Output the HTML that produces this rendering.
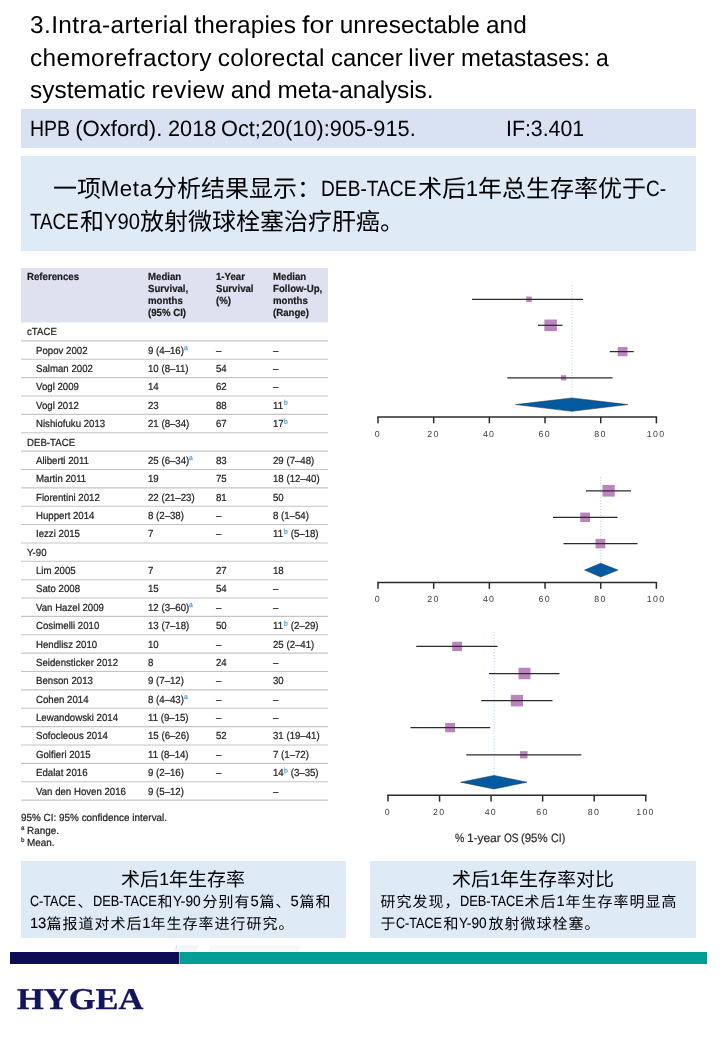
<!DOCTYPE html>
<html lang="zh"><head><meta charset="utf-8"><title>Intra-arterial therapies - DEB-TACE 1-year survival</title>
<style>
html,body{margin:0;padding:0;background:#fff}
#page{position:relative;width:720px;height:1040px;overflow:hidden;background:#fff;will-change:transform;text-rendering:geometricPrecision;font-family:"Liberation Sans",sans-serif;color:#000}
.t{position:absolute;white-space:pre;line-height:1;font-kerning:normal}
.c{position:absolute;overflow:visible}
.c text{font-family:"Liberation Sans","Noto Sans CJK SC",sans-serif;white-space:pre}
.r{position:absolute}
.s{position:absolute;left:0;top:0}
.fig{position:absolute;left:0;top:0;width:720px;height:1040px;margin:0;padding:0;font-size:16px;font-weight:normal}
.tbl{filter:blur(0.3px)}
.tbl .t{-webkit-text-stroke:0.22px currentColor}
.logo{font-family:"Liberation Serif",serif;font-weight:bold;color:#14145c;letter-spacing:0;transform:scaleX(1.142);transform-origin:0 0;-webkit-text-stroke:0.3px currentColor}
.bx .t{-webkit-text-stroke:0.1px currentColor}
.axl .t{-webkit-text-stroke:0.2px currentColor}
</style></head><body>
<div id="page">
<h1 class="fig">
<span class="t" style="left:30.00px;top:14.00px;font-size:24.40px;letter-spacing:0.403px;">3.Intra-arterial</span>
<span class="t" style="left:194.33px;top:14.00px;font-size:24.40px;letter-spacing:0.168px;">therapies</span>
<span class="t" style="left:302.22px;top:14.00px;font-size:24.40px;transform:scaleX(1.1035);transform-origin:0 0;">for</span>
<span class="t" style="left:339.65px;top:14.00px;font-size:24.40px;letter-spacing:0.054px;">unresectable</span>
<span class="t" style="left:486.02px;top:14.00px;font-size:24.40px;letter-spacing:0.003px;">and</span>
<span class="t" style="left:30.00px;top:47.00px;font-size:24.40px;letter-spacing:0.368px;">chemorefractory</span>
<span class="t" style="left:217.80px;top:47.00px;font-size:24.40px;letter-spacing:0.241px;">colorectal</span>
<span class="t" style="left:330.63px;top:47.00px;font-size:24.40px;transform:scaleX(0.9789);transform-origin:0 0;">cancer</span>
<span class="t" style="left:408.32px;top:47.00px;font-size:24.40px;letter-spacing:0.387px;">liver</span>
<span class="t" style="left:460.99px;top:47.00px;font-size:24.40px;transform:scaleX(0.9829);transform-origin:0 0;">metastases:</span>
<span class="t" style="left:596.27px;top:47.00px;font-size:24.40px;transform:scaleX(0.9387);transform-origin:0 0;">a</span>
<span class="t" style="left:30.00px;top:79.00px;font-size:24.40px;letter-spacing:0.029px;">systematic</span>
<span class="t" style="left:151.56px;top:79.00px;font-size:24.40px;letter-spacing:0.425px;">review</span>
<span class="t" style="left:230.65px;top:79.00px;font-size:24.40px;letter-spacing:0.028px;">and</span>
<span class="t" style="left:277.48px;top:79.00px;font-size:24.40px;letter-spacing:-0.100px;">meta-analysis.</span>
</h1>
<div class="fig cite">
<div class="r" style="left:21.00px;top:109.00px;width:675.00px;height:38.50px;background:#d9e2f3"></div>
<span class="t" style="left:29.80px;top:118.00px;font-size:22.20px;transform:scaleX(0.8793);transform-origin:0 0;">HPB</span>
<span class="t" style="left:75.27px;top:118.00px;font-size:22.20px;letter-spacing:-0.059px;">(Oxford).</span>
<span class="t" style="left:167.65px;top:118.00px;font-size:22.20px;transform:scaleX(0.9779);transform-origin:0 0;">2018</span>
<span class="t" style="left:221.29px;top:118.00px;font-size:22.20px;transform:scaleX(0.9805);transform-origin:0 0;">Oct;20(10):905-915.</span>
<span class="t" style="left:505.80px;top:118.00px;font-size:22.20px;transform:scaleX(0.9602);transform-origin:0 0;">IF:3.401</span>
</div>
<div class="r" style="left:21.00px;top:155.50px;width:675.00px;height:95.50px;background:#deeaf6"></div>
<p class="fig summary">
<svg class="c" style="left:52.70px;top:171.70px" width="48.00" height="31.20" fill="#000"><text x="0" y="25.20" font-size="24">一项</text></svg>
<span class="t" style="left:100.70px;top:178.00px;font-size:22.20px;letter-spacing:0.661px;color:#000;">Meta</span>
<svg class="c" style="left:152.70px;top:171.70px" width="168.00" height="31.20" fill="#000"><text x="0" y="25.20" font-size="24">分析结果显示：</text></svg>
<span class="t" style="left:320.70px;top:178.00px;font-size:22.20px;color:#000;transform:scaleX(0.8640);transform-origin:0 0;">DEB-TACE</span>
<svg class="c" style="left:417.68px;top:171.70px" width="48.00" height="31.20" fill="#000"><text x="0" y="25.20" font-size="24">术后</text></svg>
<span class="t" style="left:465.68px;top:178.00px;font-size:22.20px;letter-spacing:-0.183px;color:#000;">1</span>
<svg class="c" style="left:477.84px;top:171.70px" width="168.00" height="31.20" fill="#000"><text x="0" y="25.20" font-size="24">年总生存率优于</text></svg>
<span class="t" style="left:645.84px;top:178.00px;font-size:22.20px;color:#000;transform:scaleX(0.8600);transform-origin:0 0;">C-</span>
<span class="t" style="left:30.00px;top:211.00px;font-size:22.20px;color:#000;transform:scaleX(0.8461);transform-origin:0 0;">TACE</span>
<svg class="c" style="left:80.10px;top:205.30px" width="24.00" height="31.20" fill="#000"><text x="0" y="25.20" font-size="24">和</text></svg>
<span class="t" style="left:104.10px;top:211.00px;font-size:22.20px;color:#000;transform:scaleX(0.9120);transform-origin:0 0;">Y90</span>
<svg class="c" style="left:140.12px;top:205.30px" width="264.00" height="31.20" fill="#000"><text x="0" y="25.20" font-size="24">放射微球栓塞治疗肝癌。</text></svg>
</p>
<div class="fig tbl" role="table" aria-label="Median survival, 1-year survival and follow-up by study">
<svg class="s" width="720" height="1040" aria-hidden="true"><rect x="21.0" y="268" width="307.0" height="54.5" fill="#dfe1f0"/><line x1="21.0" x2="328.0" y1="340.87" y2="340.87" stroke="#c4c4c4" stroke-width="1.1"/><line x1="21.0" x2="328.0" y1="359.24" y2="359.24" stroke="#c4c4c4" stroke-width="1.1"/><line x1="21.0" x2="328.0" y1="377.61" y2="377.61" stroke="#c4c4c4" stroke-width="1.1"/><line x1="21.0" x2="328.0" y1="395.98" y2="395.98" stroke="#c4c4c4" stroke-width="1.1"/><line x1="21.0" x2="328.0" y1="414.35" y2="414.35" stroke="#c4c4c4" stroke-width="1.1"/><line x1="21.0" x2="328.0" y1="432.72" y2="432.72" stroke="#c4c4c4" stroke-width="1.1"/><line x1="21.0" x2="328.0" y1="451.09" y2="451.09" stroke="#c4c4c4" stroke-width="1.1"/><line x1="21.0" x2="328.0" y1="469.46" y2="469.46" stroke="#c4c4c4" stroke-width="1.1"/><line x1="21.0" x2="328.0" y1="487.83" y2="487.83" stroke="#c4c4c4" stroke-width="1.1"/><line x1="21.0" x2="328.0" y1="506.20" y2="506.20" stroke="#c4c4c4" stroke-width="1.1"/><line x1="21.0" x2="328.0" y1="524.57" y2="524.57" stroke="#c4c4c4" stroke-width="1.1"/><line x1="21.0" x2="328.0" y1="542.94" y2="542.94" stroke="#c4c4c4" stroke-width="1.1"/><line x1="21.0" x2="328.0" y1="561.31" y2="561.31" stroke="#c4c4c4" stroke-width="1.1"/><line x1="21.0" x2="328.0" y1="579.68" y2="579.68" stroke="#c4c4c4" stroke-width="1.1"/><line x1="21.0" x2="328.0" y1="598.05" y2="598.05" stroke="#c4c4c4" stroke-width="1.1"/><line x1="21.0" x2="328.0" y1="616.42" y2="616.42" stroke="#c4c4c4" stroke-width="1.1"/><line x1="21.0" x2="328.0" y1="634.79" y2="634.79" stroke="#c4c4c4" stroke-width="1.1"/><line x1="21.0" x2="328.0" y1="653.16" y2="653.16" stroke="#c4c4c4" stroke-width="1.1"/><line x1="21.0" x2="328.0" y1="671.53" y2="671.53" stroke="#c4c4c4" stroke-width="1.1"/><line x1="21.0" x2="328.0" y1="689.90" y2="689.90" stroke="#c4c4c4" stroke-width="1.1"/><line x1="21.0" x2="328.0" y1="708.27" y2="708.27" stroke="#c4c4c4" stroke-width="1.1"/><line x1="21.0" x2="328.0" y1="726.64" y2="726.64" stroke="#c4c4c4" stroke-width="1.1"/><line x1="21.0" x2="328.0" y1="745.01" y2="745.01" stroke="#c4c4c4" stroke-width="1.1"/><line x1="21.0" x2="328.0" y1="763.38" y2="763.38" stroke="#c4c4c4" stroke-width="1.1"/><line x1="21.0" x2="328.0" y1="781.75" y2="781.75" stroke="#c4c4c4" stroke-width="1.1"/><line x1="21.0" x2="328.0" y1="800.12" y2="800.12" stroke="#c4c4c4" stroke-width="1.1"/></svg>
<span class="t" style="left:26.50px;top:273.00px;font-size:10.30px;font-weight:bold;color:#1c1c1c;transform:scaleX(0.937);transform-origin:0 0;">References</span>
<span class="t" style="left:148.00px;top:273.00px;font-size:10.30px;font-weight:bold;color:#1c1c1c;transform:scaleX(0.937);transform-origin:0 0;">Median</span>
<span class="t" style="left:148.00px;top:285.00px;font-size:10.30px;font-weight:bold;color:#1c1c1c;transform:scaleX(0.937);transform-origin:0 0;">Survival,</span>
<span class="t" style="left:148.00px;top:297.00px;font-size:10.30px;font-weight:bold;color:#1c1c1c;transform:scaleX(0.937);transform-origin:0 0;">months</span>
<span class="t" style="left:148.00px;top:309.00px;font-size:10.30px;font-weight:bold;color:#1c1c1c;transform:scaleX(0.937);transform-origin:0 0;">(95% CI)</span>
<span class="t" style="left:215.50px;top:273.00px;font-size:10.30px;font-weight:bold;color:#1c1c1c;transform:scaleX(0.937);transform-origin:0 0;">1-Year</span>
<span class="t" style="left:215.50px;top:285.00px;font-size:10.30px;font-weight:bold;color:#1c1c1c;transform:scaleX(0.937);transform-origin:0 0;">Survival</span>
<span class="t" style="left:215.50px;top:297.00px;font-size:10.30px;font-weight:bold;color:#1c1c1c;transform:scaleX(0.937);transform-origin:0 0;">(%)</span>
<span class="t" style="left:273.25px;top:273.00px;font-size:10.30px;font-weight:bold;color:#1c1c1c;transform:scaleX(0.937);transform-origin:0 0;">Median</span>
<span class="t" style="left:273.25px;top:285.00px;font-size:10.30px;font-weight:bold;color:#1c1c1c;transform:scaleX(0.937);transform-origin:0 0;">Follow-Up,</span>
<span class="t" style="left:273.25px;top:297.00px;font-size:10.30px;font-weight:bold;color:#1c1c1c;transform:scaleX(0.937);transform-origin:0 0;">months</span>
<span class="t" style="left:273.25px;top:309.00px;font-size:10.30px;font-weight:bold;color:#1c1c1c;transform:scaleX(0.937);transform-origin:0 0;">(Range)</span>
<span class="t" style="left:26.50px;top:328.00px;font-size:10.30px;color:#1c1c1c;transform:scaleX(0.937);transform-origin:0 0;">cTACE</span>
<span class="t" style="left:36.25px;top:347.00px;font-size:10.30px;color:#1c1c1c;transform:scaleX(0.937);transform-origin:0 0;">Popov 2002</span>
<span class="t" style="left:148.00px;top:347.00px;font-size:10.30px;color:#1c1c1c;transform:scaleX(0.937);transform-origin:0 0;">9 (4–16)</span>
<span class="t" style="left:183.75px;top:344.00px;font-size:7.20px;color:#3d9bd6;transform:scaleX(0.937);transform-origin:0 0;">a</span>
<span class="t" style="left:215.50px;top:347.00px;font-size:10.30px;color:#1c1c1c;transform:scaleX(0.937);transform-origin:0 0;">–</span>
<span class="t" style="left:273.25px;top:347.00px;font-size:10.30px;color:#1c1c1c;transform:scaleX(0.937);transform-origin:0 0;">–</span>
<span class="t" style="left:36.25px;top:365.00px;font-size:10.30px;color:#1c1c1c;transform:scaleX(0.937);transform-origin:0 0;">Salman 2002</span>
<span class="t" style="left:148.00px;top:365.00px;font-size:10.30px;color:#1c1c1c;transform:scaleX(0.937);transform-origin:0 0;">10 (8–11)</span>
<span class="t" style="left:215.50px;top:365.00px;font-size:10.30px;color:#1c1c1c;transform:scaleX(0.937);transform-origin:0 0;">54</span>
<span class="t" style="left:273.25px;top:365.00px;font-size:10.30px;color:#1c1c1c;transform:scaleX(0.937);transform-origin:0 0;">–</span>
<span class="t" style="left:36.25px;top:383.00px;font-size:10.30px;color:#1c1c1c;transform:scaleX(0.937);transform-origin:0 0;">Vogl 2009</span>
<span class="t" style="left:148.00px;top:383.00px;font-size:10.30px;color:#1c1c1c;transform:scaleX(0.937);transform-origin:0 0;">14</span>
<span class="t" style="left:215.50px;top:383.00px;font-size:10.30px;color:#1c1c1c;transform:scaleX(0.937);transform-origin:0 0;">62</span>
<span class="t" style="left:273.25px;top:383.00px;font-size:10.30px;color:#1c1c1c;transform:scaleX(0.937);transform-origin:0 0;">–</span>
<span class="t" style="left:36.25px;top:402.00px;font-size:10.30px;color:#1c1c1c;transform:scaleX(0.937);transform-origin:0 0;">Vogl 2012</span>
<span class="t" style="left:148.00px;top:402.00px;font-size:10.30px;color:#1c1c1c;transform:scaleX(0.937);transform-origin:0 0;">23</span>
<span class="t" style="left:215.50px;top:402.00px;font-size:10.30px;color:#1c1c1c;transform:scaleX(0.937);transform-origin:0 0;">88</span>
<span class="t" style="left:273.25px;top:402.00px;font-size:10.30px;color:#1c1c1c;transform:scaleX(0.937);transform-origin:0 0;">11</span>
<span class="t" style="left:283.78px;top:399.00px;font-size:7.20px;color:#3d9bd6;transform:scaleX(0.937);transform-origin:0 0;">b</span>
<span class="t" style="left:36.25px;top:420.00px;font-size:10.30px;color:#1c1c1c;transform:scaleX(0.937);transform-origin:0 0;">Nishiofuku 2013</span>
<span class="t" style="left:148.00px;top:420.00px;font-size:10.30px;color:#1c1c1c;transform:scaleX(0.937);transform-origin:0 0;">21 (8–34)</span>
<span class="t" style="left:215.50px;top:420.00px;font-size:10.30px;color:#1c1c1c;transform:scaleX(0.937);transform-origin:0 0;">67</span>
<span class="t" style="left:273.25px;top:420.00px;font-size:10.30px;color:#1c1c1c;transform:scaleX(0.937);transform-origin:0 0;">17</span>
<span class="t" style="left:283.78px;top:418.00px;font-size:7.20px;color:#3d9bd6;transform:scaleX(0.937);transform-origin:0 0;">b</span>
<span class="t" style="left:26.50px;top:439.00px;font-size:10.30px;color:#1c1c1c;transform:scaleX(0.937);transform-origin:0 0;">DEB-TACE</span>
<span class="t" style="left:36.25px;top:457.00px;font-size:10.30px;color:#1c1c1c;transform:scaleX(0.937);transform-origin:0 0;">Aliberti 2011</span>
<span class="t" style="left:148.00px;top:457.00px;font-size:10.30px;color:#1c1c1c;transform:scaleX(0.937);transform-origin:0 0;">25 (6–34)</span>
<span class="t" style="left:189.11px;top:454.00px;font-size:7.20px;color:#3d9bd6;transform:scaleX(0.937);transform-origin:0 0;">a</span>
<span class="t" style="left:215.50px;top:457.00px;font-size:10.30px;color:#1c1c1c;transform:scaleX(0.937);transform-origin:0 0;">83</span>
<span class="t" style="left:273.25px;top:457.00px;font-size:10.30px;color:#1c1c1c;transform:scaleX(0.937);transform-origin:0 0;">29 (7–48)</span>
<span class="t" style="left:36.25px;top:475.00px;font-size:10.30px;color:#1c1c1c;transform:scaleX(0.937);transform-origin:0 0;">Martin 2011</span>
<span class="t" style="left:148.00px;top:475.00px;font-size:10.30px;color:#1c1c1c;transform:scaleX(0.937);transform-origin:0 0;">19</span>
<span class="t" style="left:215.50px;top:475.00px;font-size:10.30px;color:#1c1c1c;transform:scaleX(0.937);transform-origin:0 0;">75</span>
<span class="t" style="left:273.25px;top:475.00px;font-size:10.30px;color:#1c1c1c;transform:scaleX(0.937);transform-origin:0 0;">18 (12–40)</span>
<span class="t" style="left:36.25px;top:494.00px;font-size:10.30px;color:#1c1c1c;transform:scaleX(0.937);transform-origin:0 0;">Fiorentini 2012</span>
<span class="t" style="left:148.00px;top:494.00px;font-size:10.30px;color:#1c1c1c;transform:scaleX(0.937);transform-origin:0 0;">22 (21–23)</span>
<span class="t" style="left:215.50px;top:494.00px;font-size:10.30px;color:#1c1c1c;transform:scaleX(0.937);transform-origin:0 0;">81</span>
<span class="t" style="left:273.25px;top:494.00px;font-size:10.30px;color:#1c1c1c;transform:scaleX(0.937);transform-origin:0 0;">50</span>
<span class="t" style="left:36.25px;top:512.00px;font-size:10.30px;color:#1c1c1c;transform:scaleX(0.937);transform-origin:0 0;">Huppert 2014</span>
<span class="t" style="left:148.00px;top:512.00px;font-size:10.30px;color:#1c1c1c;transform:scaleX(0.937);transform-origin:0 0;">8 (2–38)</span>
<span class="t" style="left:215.50px;top:512.00px;font-size:10.30px;color:#1c1c1c;transform:scaleX(0.937);transform-origin:0 0;">–</span>
<span class="t" style="left:273.25px;top:512.00px;font-size:10.30px;color:#1c1c1c;transform:scaleX(0.937);transform-origin:0 0;">8 (1–54)</span>
<span class="t" style="left:36.25px;top:530.00px;font-size:10.30px;color:#1c1c1c;transform:scaleX(0.937);transform-origin:0 0;">Iezzi 2015</span>
<span class="t" style="left:148.00px;top:530.00px;font-size:10.30px;color:#1c1c1c;transform:scaleX(0.937);transform-origin:0 0;">7</span>
<span class="t" style="left:215.50px;top:530.00px;font-size:10.30px;color:#1c1c1c;transform:scaleX(0.937);transform-origin:0 0;">–</span>
<span class="t" style="left:273.25px;top:530.00px;font-size:10.30px;color:#1c1c1c;transform:scaleX(0.937);transform-origin:0 0;">11</span>
<span class="t" style="left:283.78px;top:528.00px;font-size:7.20px;color:#3d9bd6;transform:scaleX(0.937);transform-origin:0 0;">b</span>
<span class="t" style="left:287.74px;top:530.00px;font-size:10.30px;color:#1c1c1c;transform:scaleX(0.937);transform-origin:0 0;"> (5–18)</span>
<span class="t" style="left:26.50px;top:549.00px;font-size:10.30px;color:#1c1c1c;transform:scaleX(0.937);transform-origin:0 0;">Y-90</span>
<span class="t" style="left:36.25px;top:567.00px;font-size:10.30px;color:#1c1c1c;transform:scaleX(0.937);transform-origin:0 0;">Lim 2005</span>
<span class="t" style="left:148.00px;top:567.00px;font-size:10.30px;color:#1c1c1c;transform:scaleX(0.937);transform-origin:0 0;">7</span>
<span class="t" style="left:215.50px;top:567.00px;font-size:10.30px;color:#1c1c1c;transform:scaleX(0.937);transform-origin:0 0;">27</span>
<span class="t" style="left:273.25px;top:567.00px;font-size:10.30px;color:#1c1c1c;transform:scaleX(0.937);transform-origin:0 0;">18</span>
<span class="t" style="left:36.25px;top:585.00px;font-size:10.30px;color:#1c1c1c;transform:scaleX(0.937);transform-origin:0 0;">Sato 2008</span>
<span class="t" style="left:148.00px;top:585.00px;font-size:10.30px;color:#1c1c1c;transform:scaleX(0.937);transform-origin:0 0;">15</span>
<span class="t" style="left:215.50px;top:585.00px;font-size:10.30px;color:#1c1c1c;transform:scaleX(0.937);transform-origin:0 0;">54</span>
<span class="t" style="left:273.25px;top:585.00px;font-size:10.30px;color:#1c1c1c;transform:scaleX(0.937);transform-origin:0 0;">–</span>
<span class="t" style="left:36.25px;top:604.00px;font-size:10.30px;color:#1c1c1c;transform:scaleX(0.937);transform-origin:0 0;">Van Hazel 2009</span>
<span class="t" style="left:148.00px;top:604.00px;font-size:10.30px;color:#1c1c1c;transform:scaleX(0.937);transform-origin:0 0;">12 (3–60)</span>
<span class="t" style="left:189.11px;top:601.00px;font-size:7.20px;color:#3d9bd6;transform:scaleX(0.937);transform-origin:0 0;">a</span>
<span class="t" style="left:215.50px;top:604.00px;font-size:10.30px;color:#1c1c1c;transform:scaleX(0.937);transform-origin:0 0;">–</span>
<span class="t" style="left:273.25px;top:604.00px;font-size:10.30px;color:#1c1c1c;transform:scaleX(0.937);transform-origin:0 0;">–</span>
<span class="t" style="left:36.25px;top:622.00px;font-size:10.30px;color:#1c1c1c;transform:scaleX(0.937);transform-origin:0 0;">Cosimelli 2010</span>
<span class="t" style="left:148.00px;top:622.00px;font-size:10.30px;color:#1c1c1c;transform:scaleX(0.937);transform-origin:0 0;">13 (7–18)</span>
<span class="t" style="left:215.50px;top:622.00px;font-size:10.30px;color:#1c1c1c;transform:scaleX(0.937);transform-origin:0 0;">50</span>
<span class="t" style="left:273.25px;top:622.00px;font-size:10.30px;color:#1c1c1c;transform:scaleX(0.937);transform-origin:0 0;">11</span>
<span class="t" style="left:283.78px;top:620.00px;font-size:7.20px;color:#3d9bd6;transform:scaleX(0.937);transform-origin:0 0;">b</span>
<span class="t" style="left:287.74px;top:622.00px;font-size:10.30px;color:#1c1c1c;transform:scaleX(0.937);transform-origin:0 0;"> (2–29)</span>
<span class="t" style="left:36.25px;top:641.00px;font-size:10.30px;color:#1c1c1c;transform:scaleX(0.937);transform-origin:0 0;">Hendlisz 2010</span>
<span class="t" style="left:148.00px;top:641.00px;font-size:10.30px;color:#1c1c1c;transform:scaleX(0.937);transform-origin:0 0;">10</span>
<span class="t" style="left:215.50px;top:641.00px;font-size:10.30px;color:#1c1c1c;transform:scaleX(0.937);transform-origin:0 0;">–</span>
<span class="t" style="left:273.25px;top:641.00px;font-size:10.30px;color:#1c1c1c;transform:scaleX(0.937);transform-origin:0 0;">25 (2–41)</span>
<span class="t" style="left:36.25px;top:659.00px;font-size:10.30px;color:#1c1c1c;transform:scaleX(0.937);transform-origin:0 0;">Seidensticker 2012</span>
<span class="t" style="left:148.00px;top:659.00px;font-size:10.30px;color:#1c1c1c;transform:scaleX(0.937);transform-origin:0 0;">8</span>
<span class="t" style="left:215.50px;top:659.00px;font-size:10.30px;color:#1c1c1c;transform:scaleX(0.937);transform-origin:0 0;">24</span>
<span class="t" style="left:273.25px;top:659.00px;font-size:10.30px;color:#1c1c1c;transform:scaleX(0.937);transform-origin:0 0;">–</span>
<span class="t" style="left:36.25px;top:677.00px;font-size:10.30px;color:#1c1c1c;transform:scaleX(0.937);transform-origin:0 0;">Benson 2013</span>
<span class="t" style="left:148.00px;top:677.00px;font-size:10.30px;color:#1c1c1c;transform:scaleX(0.937);transform-origin:0 0;">9 (7–12)</span>
<span class="t" style="left:215.50px;top:677.00px;font-size:10.30px;color:#1c1c1c;transform:scaleX(0.937);transform-origin:0 0;">–</span>
<span class="t" style="left:273.25px;top:677.00px;font-size:10.30px;color:#1c1c1c;transform:scaleX(0.937);transform-origin:0 0;">30</span>
<span class="t" style="left:36.25px;top:696.00px;font-size:10.30px;color:#1c1c1c;transform:scaleX(0.937);transform-origin:0 0;">Cohen 2014</span>
<span class="t" style="left:148.00px;top:696.00px;font-size:10.30px;color:#1c1c1c;transform:scaleX(0.937);transform-origin:0 0;">8 (4–43)</span>
<span class="t" style="left:183.75px;top:693.00px;font-size:7.20px;color:#3d9bd6;transform:scaleX(0.937);transform-origin:0 0;">a</span>
<span class="t" style="left:215.50px;top:696.00px;font-size:10.30px;color:#1c1c1c;transform:scaleX(0.937);transform-origin:0 0;">–</span>
<span class="t" style="left:273.25px;top:696.00px;font-size:10.30px;color:#1c1c1c;transform:scaleX(0.937);transform-origin:0 0;">–</span>
<span class="t" style="left:36.25px;top:714.00px;font-size:10.30px;color:#1c1c1c;transform:scaleX(0.937);transform-origin:0 0;">Lewandowski 2014</span>
<span class="t" style="left:148.00px;top:714.00px;font-size:10.30px;color:#1c1c1c;transform:scaleX(0.937);transform-origin:0 0;">11 (9–15)</span>
<span class="t" style="left:215.50px;top:714.00px;font-size:10.30px;color:#1c1c1c;transform:scaleX(0.937);transform-origin:0 0;">–</span>
<span class="t" style="left:273.25px;top:714.00px;font-size:10.30px;color:#1c1c1c;transform:scaleX(0.937);transform-origin:0 0;">–</span>
<span class="t" style="left:36.25px;top:732.00px;font-size:10.30px;color:#1c1c1c;transform:scaleX(0.937);transform-origin:0 0;">Sofocleous 2014</span>
<span class="t" style="left:148.00px;top:732.00px;font-size:10.30px;color:#1c1c1c;transform:scaleX(0.937);transform-origin:0 0;">15 (6–26)</span>
<span class="t" style="left:215.50px;top:732.00px;font-size:10.30px;color:#1c1c1c;transform:scaleX(0.937);transform-origin:0 0;">52</span>
<span class="t" style="left:273.25px;top:732.00px;font-size:10.30px;color:#1c1c1c;transform:scaleX(0.937);transform-origin:0 0;">31 (19–41)</span>
<span class="t" style="left:36.25px;top:751.00px;font-size:10.30px;color:#1c1c1c;transform:scaleX(0.937);transform-origin:0 0;">Golfieri 2015</span>
<span class="t" style="left:148.00px;top:751.00px;font-size:10.30px;color:#1c1c1c;transform:scaleX(0.937);transform-origin:0 0;">11 (8–14)</span>
<span class="t" style="left:215.50px;top:751.00px;font-size:10.30px;color:#1c1c1c;transform:scaleX(0.937);transform-origin:0 0;">–</span>
<span class="t" style="left:273.25px;top:751.00px;font-size:10.30px;color:#1c1c1c;transform:scaleX(0.937);transform-origin:0 0;">7 (1–72)</span>
<span class="t" style="left:36.25px;top:769.00px;font-size:10.30px;color:#1c1c1c;transform:scaleX(0.937);transform-origin:0 0;">Edalat 2016</span>
<span class="t" style="left:148.00px;top:769.00px;font-size:10.30px;color:#1c1c1c;transform:scaleX(0.937);transform-origin:0 0;">9 (2–16)</span>
<span class="t" style="left:215.50px;top:769.00px;font-size:10.30px;color:#1c1c1c;transform:scaleX(0.937);transform-origin:0 0;">–</span>
<span class="t" style="left:273.25px;top:769.00px;font-size:10.30px;color:#1c1c1c;transform:scaleX(0.937);transform-origin:0 0;">14</span>
<span class="t" style="left:283.78px;top:767.00px;font-size:7.20px;color:#3d9bd6;transform:scaleX(0.937);transform-origin:0 0;">b</span>
<span class="t" style="left:287.74px;top:769.00px;font-size:10.30px;color:#1c1c1c;transform:scaleX(0.937);transform-origin:0 0;"> (3–35)</span>
<span class="t" style="left:36.25px;top:788.00px;font-size:10.30px;color:#1c1c1c;transform:scaleX(0.937);transform-origin:0 0;">Van den Hoven 2016</span>
<span class="t" style="left:148.00px;top:788.00px;font-size:10.30px;color:#1c1c1c;transform:scaleX(0.937);transform-origin:0 0;">9 (5–12)</span>
<span class="t" style="left:273.25px;top:788.00px;font-size:10.30px;color:#1c1c1c;transform:scaleX(0.937);transform-origin:0 0;">–</span>
<span class="t" style="left:21.00px;top:814.00px;font-size:10.30px;color:#1c1c1c;transform:scaleX(0.963);transform-origin:0 0;">95% CI: 95% confidence interval.</span>
<span class="t" style="left:21.00px;top:826.00px;font-size:6.40px;color:#1c1c1c;transform:scaleX(0.963);transform-origin:0 0;">a</span>
<span class="t" style="left:27.30px;top:827.00px;font-size:10.30px;color:#1c1c1c;transform:scaleX(0.963);transform-origin:0 0;">Range.</span>
<span class="t" style="left:21.00px;top:838.00px;font-size:6.40px;color:#1c1c1c;transform:scaleX(0.963);transform-origin:0 0;">b</span>
<span class="t" style="left:27.30px;top:839.00px;font-size:10.30px;color:#1c1c1c;transform:scaleX(0.963);transform-origin:0 0;">Mean.</span>
</div>
<div class="fig plot">
<svg class="s" width="720" height="1040" role="img" aria-label="Forest plot of 1-year overall survival"><line x1="571.90" x2="571.90" y1="285.00" y2="416.00" stroke="#bcd6ee" stroke-width="1.1" stroke-dasharray="1.2 1.7"/><rect x="526.25" y="296.55" width="5.50" height="5.50" fill="#bb84bf"/><line x1="472.00" x2="583.00" y1="299.30" y2="299.30" stroke="#2b2b2b" stroke-width="1.25"/><rect x="544.35" y="319.50" width="12.50" height="11.60" fill="#bb84bf"/><line x1="538.00" x2="562.50" y1="325.30" y2="325.30" stroke="#2b2b2b" stroke-width="1.25"/><rect x="617.70" y="346.95" width="9.80" height="9.30" fill="#bb84bf"/><line x1="609.75" x2="633.75" y1="351.60" y2="351.60" stroke="#2b2b2b" stroke-width="1.25"/><rect x="560.95" y="375.20" width="5.30" height="5.20" fill="#bb84bf"/><line x1="507.25" x2="612.50" y1="377.80" y2="377.80" stroke="#2b2b2b" stroke-width="1.25"/><polygon points="515.50,404.60 571.90,397.90 628.00,404.60 571.90,411.30" fill="#045a9e" stroke="#1d3550" stroke-width="0.5"/><line x1="377.25" x2="657.15" y1="416.90" y2="416.90" stroke="#2b2b2b" stroke-width="1.5"/><line x1="378.00" x2="378.00" y1="416.90" y2="423.30" stroke="#2b2b2b" stroke-width="1.5"/><line x1="433.68" x2="433.68" y1="416.90" y2="423.30" stroke="#2b2b2b" stroke-width="1.5"/><line x1="489.36" x2="489.36" y1="416.90" y2="423.30" stroke="#2b2b2b" stroke-width="1.5"/><line x1="545.04" x2="545.04" y1="416.90" y2="423.30" stroke="#2b2b2b" stroke-width="1.5"/><line x1="600.72" x2="600.72" y1="416.90" y2="423.30" stroke="#2b2b2b" stroke-width="1.5"/><line x1="656.40" x2="656.40" y1="416.90" y2="423.30" stroke="#2b2b2b" stroke-width="1.5"/><line x1="600.75" x2="600.75" y1="477.00" y2="582.00" stroke="#bcd6ee" stroke-width="1.1" stroke-dasharray="1.2 1.7"/><rect x="602.45" y="485.00" width="12.30" height="11.60" fill="#bb84bf"/><line x1="586.00" x2="631.00" y1="490.80" y2="490.80" stroke="#2b2b2b" stroke-width="1.25"/><rect x="580.20" y="512.55" width="9.80" height="9.50" fill="#bb84bf"/><line x1="553.00" x2="617.50" y1="517.30" y2="517.30" stroke="#2b2b2b" stroke-width="1.25"/><rect x="595.50" y="538.85" width="9.80" height="9.50" fill="#bb84bf"/><line x1="563.50" x2="637.50" y1="543.60" y2="543.60" stroke="#2b2b2b" stroke-width="1.25"/><polygon points="584.50,570.10 600.75,563.20 618.00,570.10 600.75,577.00" fill="#045a9e" stroke="#1d3550" stroke-width="0.5"/><line x1="377.25" x2="657.15" y1="582.40" y2="582.40" stroke="#2b2b2b" stroke-width="1.5"/><line x1="378.00" x2="378.00" y1="582.40" y2="588.80" stroke="#2b2b2b" stroke-width="1.5"/><line x1="433.68" x2="433.68" y1="582.40" y2="588.80" stroke="#2b2b2b" stroke-width="1.5"/><line x1="489.36" x2="489.36" y1="582.40" y2="588.80" stroke="#2b2b2b" stroke-width="1.5"/><line x1="545.04" x2="545.04" y1="582.40" y2="588.80" stroke="#2b2b2b" stroke-width="1.5"/><line x1="600.72" x2="600.72" y1="582.40" y2="588.80" stroke="#2b2b2b" stroke-width="1.5"/><line x1="656.40" x2="656.40" y1="582.40" y2="588.80" stroke="#2b2b2b" stroke-width="1.5"/><line x1="494.00" x2="494.00" y1="631.75" y2="795.00" stroke="#bcd6ee" stroke-width="1.1" stroke-dasharray="1.2 1.7"/><rect x="452.20" y="641.75" width="9.80" height="9.30" fill="#bb84bf"/><line x1="416.25" x2="497.50" y1="646.40" y2="646.40" stroke="#2b2b2b" stroke-width="1.25"/><rect x="518.50" y="667.75" width="12.00" height="11.50" fill="#bb84bf"/><line x1="489.00" x2="559.50" y1="673.50" y2="673.50" stroke="#2b2b2b" stroke-width="1.25"/><rect x="510.80" y="694.85" width="12.20" height="11.50" fill="#bb84bf"/><line x1="481.25" x2="552.50" y1="700.60" y2="700.60" stroke="#2b2b2b" stroke-width="1.25"/><rect x="445.20" y="722.95" width="9.80" height="9.30" fill="#bb84bf"/><line x1="410.50" x2="490.25" y1="727.60" y2="727.60" stroke="#2b2b2b" stroke-width="1.25"/><rect x="520.00" y="751.15" width="7.50" height="7.30" fill="#bb84bf"/><line x1="466.25" x2="581.25" y1="754.80" y2="754.80" stroke="#2b2b2b" stroke-width="1.25"/><polygon points="460.50,782.20 494.00,775.40 527.00,782.20 494.00,789.00" fill="#045a9e" stroke="#1d3550" stroke-width="0.5"/><line x1="387.25" x2="646.50" y1="795.20" y2="795.20" stroke="#2b2b2b" stroke-width="1.5"/><line x1="388.00" x2="388.00" y1="795.20" y2="801.60" stroke="#2b2b2b" stroke-width="1.5"/><line x1="439.55" x2="439.55" y1="795.20" y2="801.60" stroke="#2b2b2b" stroke-width="1.5"/><line x1="491.10" x2="491.10" y1="795.20" y2="801.60" stroke="#2b2b2b" stroke-width="1.5"/><line x1="542.65" x2="542.65" y1="795.20" y2="801.60" stroke="#2b2b2b" stroke-width="1.5"/><line x1="594.20" x2="594.20" y1="795.20" y2="801.60" stroke="#2b2b2b" stroke-width="1.5"/><line x1="645.75" x2="645.75" y1="795.20" y2="801.60" stroke="#2b2b2b" stroke-width="1.5"/></svg>
<span class="t" style="left:374.65px;top:430.00px;font-size:8.80px;letter-spacing:1.300px;color:#3c3c3c;">0</span>
<span class="t" style="left:427.24px;top:430.00px;font-size:8.80px;letter-spacing:1.300px;color:#3c3c3c;">20</span>
<span class="t" style="left:482.92px;top:430.00px;font-size:8.80px;letter-spacing:1.300px;color:#3c3c3c;">40</span>
<span class="t" style="left:538.60px;top:430.00px;font-size:8.80px;letter-spacing:1.300px;color:#3c3c3c;">60</span>
<span class="t" style="left:594.28px;top:430.00px;font-size:8.80px;letter-spacing:1.300px;color:#3c3c3c;">80</span>
<span class="t" style="left:646.86px;top:430.00px;font-size:8.80px;letter-spacing:1.300px;color:#3c3c3c;">100</span>
<span class="t" style="left:374.65px;top:595.00px;font-size:8.80px;letter-spacing:1.300px;color:#3c3c3c;">0</span>
<span class="t" style="left:427.24px;top:595.00px;font-size:8.80px;letter-spacing:1.300px;color:#3c3c3c;">20</span>
<span class="t" style="left:482.92px;top:595.00px;font-size:8.80px;letter-spacing:1.300px;color:#3c3c3c;">40</span>
<span class="t" style="left:538.60px;top:595.00px;font-size:8.80px;letter-spacing:1.300px;color:#3c3c3c;">60</span>
<span class="t" style="left:594.28px;top:595.00px;font-size:8.80px;letter-spacing:1.300px;color:#3c3c3c;">80</span>
<span class="t" style="left:646.86px;top:595.00px;font-size:8.80px;letter-spacing:1.300px;color:#3c3c3c;">100</span>
<span class="t" style="left:384.65px;top:808.00px;font-size:8.80px;letter-spacing:1.300px;color:#3c3c3c;">0</span>
<span class="t" style="left:433.11px;top:808.00px;font-size:8.80px;letter-spacing:1.300px;color:#3c3c3c;">20</span>
<span class="t" style="left:484.66px;top:808.00px;font-size:8.80px;letter-spacing:1.300px;color:#3c3c3c;">40</span>
<span class="t" style="left:536.21px;top:808.00px;font-size:8.80px;letter-spacing:1.300px;color:#3c3c3c;">60</span>
<span class="t" style="left:587.76px;top:808.00px;font-size:8.80px;letter-spacing:1.300px;color:#3c3c3c;">80</span>
<span class="t" style="left:636.21px;top:808.00px;font-size:8.80px;letter-spacing:1.300px;color:#3c3c3c;">100</span>
<div class="fig axl">
<span class="t" style="left:454.60px;top:832.00px;font-size:12.07px;color:#2a2a2a;transform:scaleX(0.8691);transform-origin:0 0;">%</span>
<span class="t" style="left:466.88px;top:832.00px;font-size:12.07px;letter-spacing:-0.068px;color:#2a2a2a;">1-year</span>
<span class="t" style="left:503.64px;top:832.00px;font-size:12.07px;color:#2a2a2a;transform:scaleX(0.8392);transform-origin:0 0;">OS</span>
<span class="t" style="left:521.23px;top:832.00px;font-size:12.07px;color:#2a2a2a;transform:scaleX(0.9409);transform-origin:0 0;">(95%</span>
<span class="t" style="left:550.69px;top:832.00px;font-size:12.07px;color:#2a2a2a;transform:scaleX(0.8827);transform-origin:0 0;">CI)</span>
</div>
</div>
<div class="r" style="left:21.00px;top:861.00px;width:325.00px;height:76.50px;background:#deeaf6"></div>
<div class="r" style="left:370.30px;top:861.00px;width:325.70px;height:76.50px;background:#deeaf6"></div>
<div class="fig bx">
<svg class="c" style="left:121.20px;top:866.00px" width="38.00" height="24.70" fill="#000"><text x="0" y="19.95" font-size="19">术后</text></svg>
<span class="t" style="left:159.20px;top:871.00px;font-size:17.57px;letter-spacing:-0.144px;color:#000;">1</span>
<svg class="c" style="left:168.83px;top:866.00px" width="76.00" height="24.70" fill="#000"><text x="0" y="19.95" font-size="19">年生存率</text></svg>
<span class="t" style="left:30.00px;top:895.00px;font-size:14.80px;color:#000;transform:scaleX(0.8501);transform-origin:0 0;">C-TACE</span>
<svg class="c" style="left:76.83px;top:890.30px" width="16.00" height="20.80" fill="#000"><text x="0.52" y="16.65" font-size="14.96" letter-spacing="1.04">、</text></svg>
<span class="t" style="left:92.83px;top:895.00px;font-size:14.80px;color:#000;transform:scaleX(0.8640);transform-origin:0 0;">DEB-TACE</span>
<svg class="c" style="left:157.48px;top:890.30px" width="16.00" height="20.80" fill="#000"><text x="0.52" y="16.65" font-size="14.96" letter-spacing="1.04">和</text></svg>
<span class="t" style="left:173.48px;top:895.00px;font-size:14.80px;color:#000;transform:scaleX(0.9249);transform-origin:0 0;">Y-90</span>
<svg class="c" style="left:202.40px;top:890.30px" width="48.00" height="20.80" fill="#000"><text x="0.52" y="16.65" font-size="14.96" letter-spacing="1.04">分别有</text></svg>
<span class="t" style="left:250.40px;top:895.00px;font-size:14.80px;letter-spacing:-0.122px;color:#000;">5</span>
<svg class="c" style="left:258.51px;top:890.30px" width="32.00" height="20.80" fill="#000"><text x="0.52" y="16.65" font-size="14.96" letter-spacing="1.04">篇、</text></svg>
<span class="t" style="left:290.51px;top:895.00px;font-size:14.80px;letter-spacing:-0.122px;color:#000;">5</span>
<svg class="c" style="left:298.62px;top:890.30px" width="32.00" height="20.80" fill="#000"><text x="0.52" y="16.65" font-size="14.96" letter-spacing="1.04">篇和</text></svg>
<span class="t" style="left:30.00px;top:917.00px;font-size:14.80px;letter-spacing:-0.122px;color:#000;">13</span>
<svg class="c" style="left:46.22px;top:912.00px" width="96.00" height="20.80" fill="#000"><text x="0.52" y="16.65" font-size="14.96" letter-spacing="1.04">篇报道对术后</text></svg>
<span class="t" style="left:142.22px;top:917.00px;font-size:14.80px;letter-spacing:-0.122px;color:#000;">1</span>
<svg class="c" style="left:150.33px;top:912.00px" width="144.00" height="20.80" fill="#000"><text x="0.52" y="16.65" font-size="14.96" letter-spacing="1.04">年生存率进行研究。</text></svg>
<svg class="c" style="left:452.20px;top:866.00px" width="38.00" height="24.70" fill="#000"><text x="0" y="19.95" font-size="19">术后</text></svg>
<span class="t" style="left:490.20px;top:871.00px;font-size:17.57px;letter-spacing:-0.144px;color:#000;">1</span>
<svg class="c" style="left:499.83px;top:866.00px" width="114.00" height="24.70" fill="#000"><text x="0" y="19.95" font-size="19">年生存率对比</text></svg>
<svg class="c" style="left:379.80px;top:890.30px" width="80.00" height="20.80" fill="#000"><text x="0.52" y="16.65" font-size="14.96" letter-spacing="1.04">研究发现，</text></svg>
<span class="t" style="left:459.80px;top:895.00px;font-size:14.80px;color:#000;transform:scaleX(0.8640);transform-origin:0 0;">DEB-TACE</span>
<svg class="c" style="left:524.46px;top:890.30px" width="32.00" height="20.80" fill="#000"><text x="0.52" y="16.65" font-size="14.96" letter-spacing="1.04">术后</text></svg>
<span class="t" style="left:556.46px;top:895.00px;font-size:14.80px;letter-spacing:-0.122px;color:#000;">1</span>
<svg class="c" style="left:564.57px;top:890.30px" width="112.00" height="20.80" fill="#000"><text x="0.52" y="16.65" font-size="14.96" letter-spacing="1.04">年生存率明显高</text></svg>
<svg class="c" style="left:379.80px;top:912.00px" width="16.00" height="20.80" fill="#000"><text x="0.52" y="16.65" font-size="14.96" letter-spacing="1.04">于</text></svg>
<span class="t" style="left:395.80px;top:917.00px;font-size:14.80px;color:#000;transform:scaleX(0.8501);transform-origin:0 0;">C-TACE</span>
<svg class="c" style="left:442.63px;top:912.00px" width="16.00" height="20.80" fill="#000"><text x="0.52" y="16.65" font-size="14.96" letter-spacing="1.04">和</text></svg>
<span class="t" style="left:458.63px;top:917.00px;font-size:14.80px;color:#000;transform:scaleX(0.9249);transform-origin:0 0;">Y-90</span>
<svg class="c" style="left:487.54px;top:912.00px" width="112.00" height="20.80" fill="#000"><text x="0.52" y="16.65" font-size="14.96" letter-spacing="1.04">放射微球栓塞。</text></svg>
</div>
<svg class="s" width="720" height="1040" aria-hidden="true"><polygon points="177,951.8 180,945.2 199,945.2 196,951.8" fill="#f1f4f8"/><polygon points="208,951.8 211,945.2 301,945.2 298,951.8" fill="#f6f8fa"/><line x1="176" x2="176.6" y1="950.5" y2="945" stroke="#c3d6ea" stroke-width="0.8"/></svg>
<div class="r" style="left:10.00px;top:952.00px;width:169.50px;height:11.70px;background:#0c0c57"></div>
<div class="r" style="left:179.50px;top:952.00px;width:527.30px;height:11.70px;background:#019e96"></div>
<div class="r" style="left:179.20px;top:952.00px;width:1.00px;height:11.70px;background:#6fbdb8"></div>
<span class="t logo" style="left:17px;top:984px;font-size:30.2px;">HYGEA</span>
</div>
</body></html>
